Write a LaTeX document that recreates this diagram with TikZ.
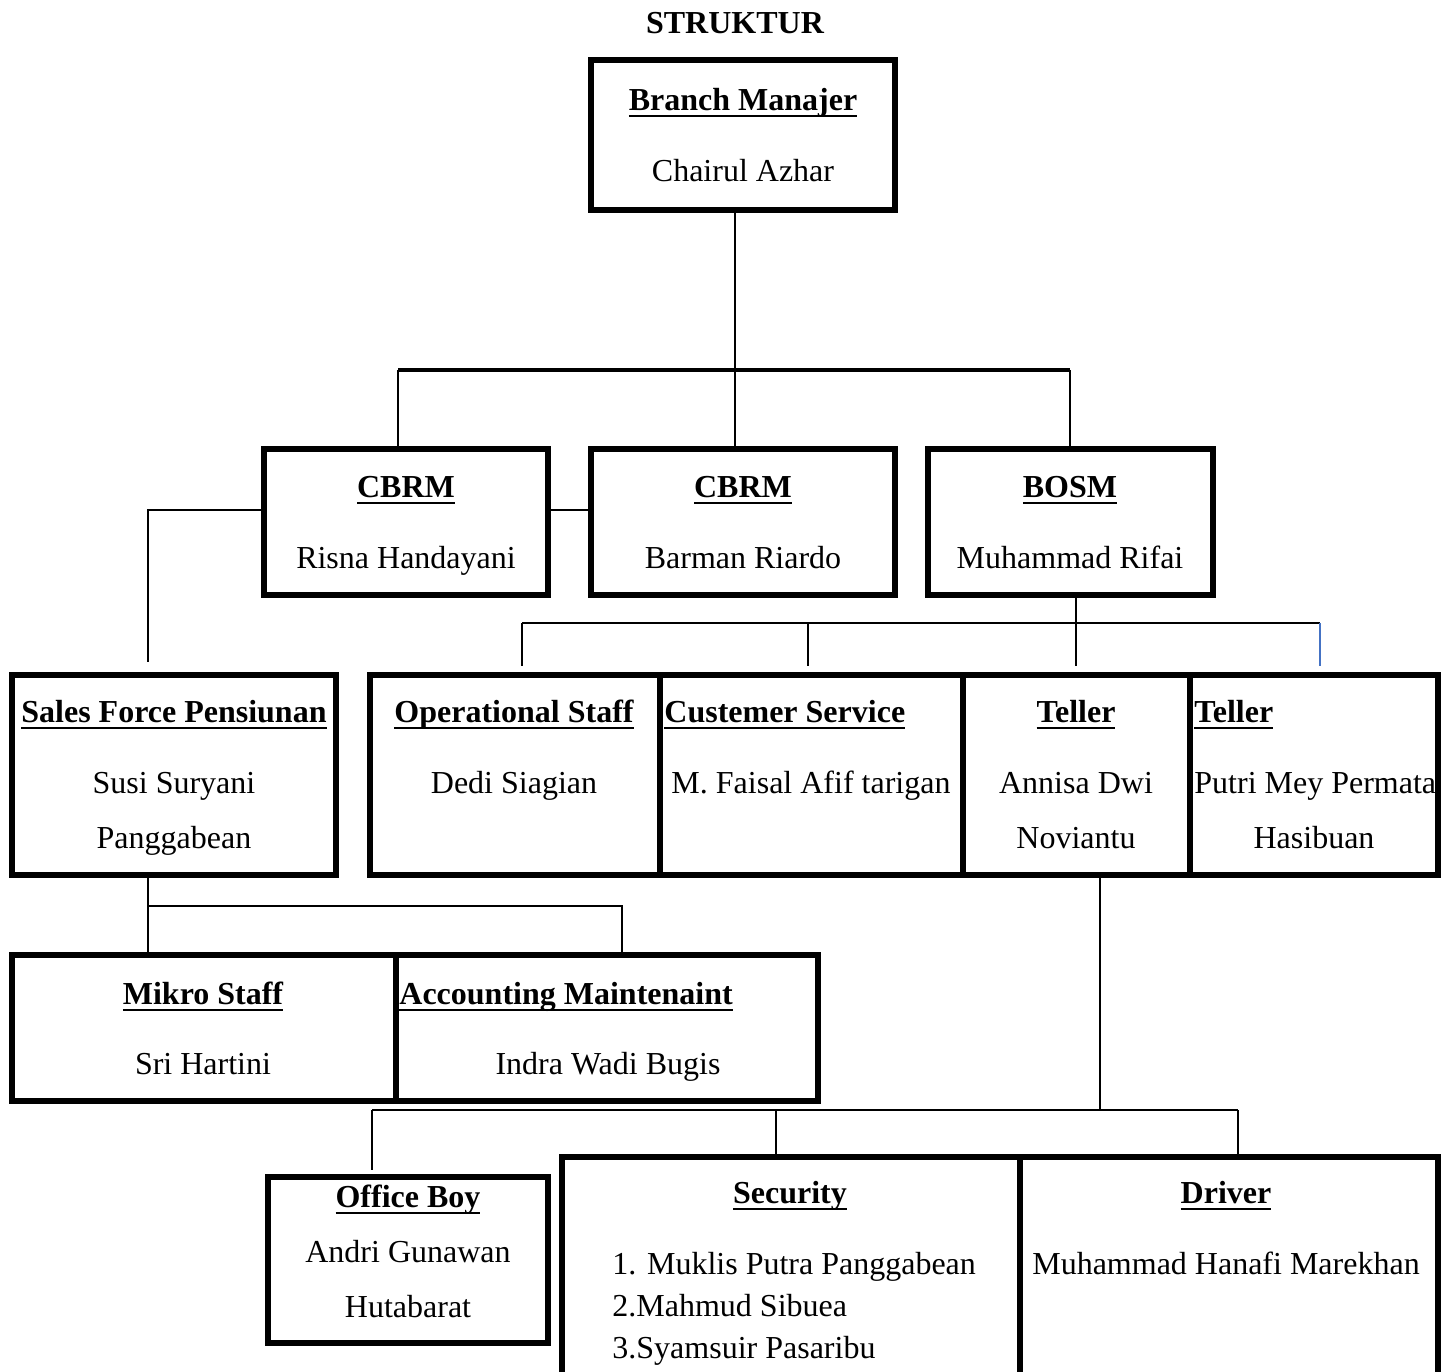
\documentclass[tikz,border=0pt]{standalone}
\usepackage{fontspec}
\setmainfont{Liberation Serif}
\definecolor{wblue}{RGB}{68,114,196}
\newsavebox\ulbox
\newcommand\myul[1]{\sbox\ulbox{#1}\rlap{\rule[-3.4pt]{\wd\ulbox}{1.1pt}}\usebox\ulbox}
\begin{document}
\begin{tikzpicture}[x=0.5pt,y=-0.5pt,
  cell/.style 2 args={draw, line width=2.9pt, inner sep=0pt, minimum width=#1, minimum height=#2},
  hd/.style={anchor=base, inner sep=0pt, font=\fontsize{16}{19}\selectfont\bfseries},
  hdl/.style={anchor=base west, inner sep=0pt, font=\fontsize{16}{19}\selectfont\bfseries},
  nm/.style={anchor=base, inner sep=0pt, font=\fontsize{16}{19}\selectfont},
  nml/.style={anchor=base west, inner sep=0pt, font=\fontsize{16}{19}\selectfont},
  conn/.style={line width=1pt},
  bus/.style={line width=1.6pt}]
\useasboundingbox (0,0) rectangle (1454,1371);
\clip (0,0) rectangle (1454,1371);

% ---------- boxes ----------
\node[cell={152pt}{75pt}] (bm) at (743,135) {};
\node[cell={142pt}{73pt}] (cbrm1) at (406,522) {};
\node[cell={152pt}{73pt}] (cbrm2) at (743,522) {};
\node[cell={142.5pt}{73pt}] (bosm) at (1070.5,522) {};
\node[cell={162pt}{100pt}] (sfp) at (174,775) {};
\node[cell={145pt}{100pt}] (ops) at (515,775) {};
\node[cell={151.5pt}{100pt}] (cs) at (811.5,775) {};
\node[cell={113.5pt}{100pt}] (tel1) at (1076.5,775) {};
\node[cell={124pt}{100pt}] (tel2) at (1314,775) {};
\node[cell={192pt}{73pt}] (mikro) at (204,1028) {};
\node[cell={211pt}{73pt}] (acct) at (607,1028) {};
\node[cell={140pt}{83pt}] (ob) at (408,1260) {};
\node[cell={229pt}{121.5pt}] (sec) at (791,1278.5) {};
\node[cell={209pt}{121.5pt}] (drv) at (1229,1278.5) {};

% ---------- texts ----------
\node[hd] (title) at (735,33) {STRUKTUR};
\node[hd] (bmh) at (743,110) {\myul{Branch Manajer}};
\node[nm] (bmn) at (743,181) {Chairul Azhar};
\node[hd] (c1h) at (406,497) {\myul{CBRM}};
\node[nm] (c1n) at (406,568) {Risna Handayani};
\node[hd] (c2h) at (743,497) {\myul{CBRM}};
\node[nm] (c2n) at (743,568) {Barman Riardo};
\node[hd] (bsh) at (1070,497) {\myul{BOSM}};
\node[nm] (bsn) at (1070,568) {Muhammad Rifai};
\node[hd] (sfh) at (174,722) {\myul{Sales Force Pensiunan}};
\node[nm] (sfn1) at (174,793) {Susi Suryani};
\node[nm] (sfn2) at (174,848) {Panggabean};
\node[hd] (oph) at (514,722) {\myul{Operational Staff}};
\node[nm] (opn) at (514,793) {Dedi Siagian};
\node[hdl] (csh) at (664,722) {\myul{Custemer Service}};
\node[nm] (csn) at (811,793) {M. Faisal Afif tarigan};
\node[hd] (t1h) at (1076,722) {\myul{Teller}};
\node[nm] (t1n1) at (1076,793) {Annisa Dwi};
\node[nm] (t1n2) at (1076,848) {Noviantu};
\node[hdl] (t2h) at (1194,722) {\myul{Teller}};
\node[nml] (t2n1) at (1194,793) {Putri Mey Permata};
\node[nm] (t2n2) at (1314,848) {Hasibuan};
\node[hd] (mkh) at (203,1004) {\myul{Mikro Staff}};
\node[nm] (mkn) at (203,1074) {Sri Hartini};
\node[hdl] (ach) at (399,1004) {\myul{Accounting Maintenaint}};
\node[nm] (acn) at (608,1074) {Indra Wadi Bugis};
\node[hd] (obh) at (408,1207) {\myul{Office Boy}};
\node[nm] (obn1) at (408,1262) {Andri Gunawan};
\node[nm] (obn2) at (408,1317) {Hutabarat};
\node[hd] (sch) at (790,1203) {\myul{Security}};
\node[nml] (scn1) at (612,1274) {1. Muklis Putra Panggabean};
\node[nml] (scn2) at (612,1316) {2.Mahmud Sibuea};
\node[nml] (scn3) at (612,1358) {3.Syamsuir Pasaribu};
\node[hd] (drh) at (1226,1203) {\myul{Driver}};
\node[nm] (drn) at (1226,1274) {Muhammad Hanafi Marekhan};

% ---------- connectors ----------
\coordinate (t0) at (735,370);
\coordinate (tL) at (398,370);
\coordinate (tR) at (1070,370);
\draw[conn] (t0 |- bm.south) -- (t0);
\draw[bus] (tL) -- (tR);
\draw[conn] (tL) -- (tL |- cbrm1.north);
\draw[conn] (t0) -- (t0 |- cbrm2.north);
\draw[conn] (tR) -- (tR |- bosm.north);

\coordinate (sfTop) at (148,662);
\draw[conn] (cbrm1.east |- 0,510) -- (cbrm2.west |- 0,510);
\draw[conn] (cbrm1.west |- 0,510) -| (sfTop);

\coordinate (b0) at (1076,623);
\coordinate (bL) at (522,623);
\coordinate (bM) at (808,623);
\coordinate (bR) at (1320,623);
\draw[conn] (b0 |- bosm.south) -- (1076,666) coordinate (b0e);
\draw[conn] (bL) -- (bR);
\draw[conn] (bL) -- (522,666) coordinate (bLe);
\draw[conn] (bM) -- (808,666) coordinate (bMe);
\draw[conn, wblue] (bR) -- (1320,666) coordinate (bRe);

\coordinate (m0) at (148,906);
\coordinate (mR) at (622,906);
\draw[conn] (m0 |- sfp.south) -- (m0 |- mikro.north);
\draw[conn] (m0) -- (mR) -- (mR |- acct.north);

\coordinate (s0) at (1100,1110);
\coordinate (sL) at (372,1110);
\coordinate (sM) at (776,1110);
\coordinate (sR) at (1238,1110);
\draw[conn] (s0 |- tel1.south) -- (s0);
\draw[conn] (sL) -- (sR);
\draw[conn] (sL) -- (372,1170) coordinate (sLe);
\draw[conn] (sM) -- (sM |- sec.north);
\draw[conn] (sR) -- (sR |- drv.north);
\end{tikzpicture}
\end{document}
